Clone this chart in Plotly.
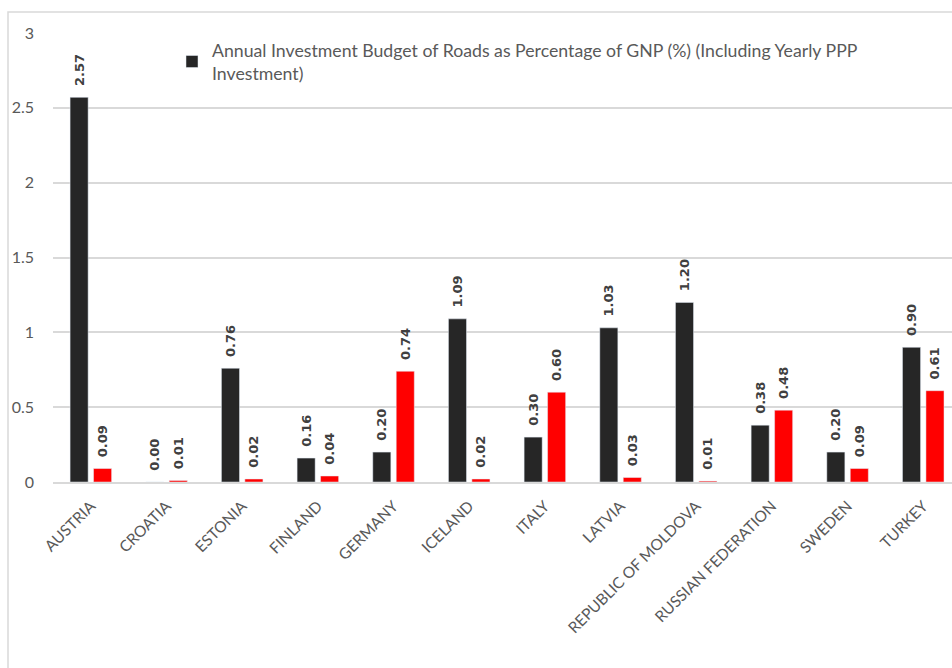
import plotly.graph_objects as go

countries = ["AUSTRIA", "CROATIA", "ESTONIA", "FINLAND", "GERMANY", "ICELAND", "ITALY",
             "LATVIA", "REPUBLIC OF MOLDOVA", "RUSSIAN FEDERATION", "SWEDEN", "TURKEY"]
budget_incl_ppp = [2.57, 0.00, 0.76, 0.16, 0.20, 1.09, 0.30, 1.03, 1.20, 0.38, 0.20, 0.90]
second_series = [0.09, 0.01, 0.02, 0.04, 0.74, 0.02, 0.60, 0.03, 0.006, 0.48, 0.09, 0.61]
y_ticks = [0, 0.5, 1, 1.5, 2, 2.5, 3]
y_tick_text = ["0", "0.5", "1", "1.5", "2", "2.5", "3"]
legend_name = "Annual Investment Budget of Roads as Percentage of GNP (%) (Including Yearly PPP<br>Investment)"

W, H = 952, 668
L, R, T, B = 53, 0, 33, 186
pw, ph = W - L - R, H - T - B

label_font = dict(family="DejaVu Sans", size=13, color="#404040")
label_tpl = "\u00a0\u00a0<b>%{y:.2f}</b>"

fig = go.Figure()
fig.add_trace(go.Bar(
    x=countries, y=budget_incl_ppp, name=legend_name,
    marker=dict(color="#262626"),
    texttemplate=label_tpl, textposition="outside", textangle=-90,
    textfont=label_font, cliponaxis=False, constraintext="none",
))
fig.add_trace(go.Bar(
    x=countries, y=second_series, name="",
    marker=dict(color="#ff0000"), showlegend=False,
    texttemplate=label_tpl, textposition="outside", textangle=-90,
    textfont=label_font, cliponaxis=False, constraintext="none",
))


def px_to_paper_x(px):
    return (px - L) / pw


def px_to_paper_y(py):
    return (H - B - py) / ph


# outer chart border (left and top visible)
fig.add_shape(type="rect", xref="paper", yref="paper",
              x0=px_to_paper_x(8), x1=px_to_paper_x(1000),
              y0=px_to_paper_y(700), y1=px_to_paper_y(12),
              line=dict(color="#d9d9d9", width=1.5), fillcolor="rgba(0,0,0,0)", layer="below")

fig.update_layout(
    width=W, height=H,
    margin=dict(l=L, r=R, t=T, b=B),
    paper_bgcolor="white", plot_bgcolor="white",
    barmode="group", bargap=0.38, bargroupgap=0.23,
    font=dict(family="Lato", color="#595959"),
    legend=dict(x=px_to_paper_x(172), y=px_to_paper_y(32), xanchor="left", yanchor="top",
                font=dict(family="Lato", size=17.7, color="#595959"),
                bgcolor="rgba(0,0,0,0)", itemwidth=30, tracegroupgap=0),
    showlegend=True,
    xaxis=dict(range=[-0.5, 11.38], tickangle=-45,
               tickfont=dict(family="Lato", size=15.5, color="#595959"),
               showgrid=False, showline=True, linecolor="#d9d9d9", linewidth=2, ticks="",
               ticklabelstandoff=7),
    yaxis=dict(range=[0, 3], tickvals=y_ticks, ticktext=y_tick_text,
               tickfont=dict(family="Lato", size=16, color="#595959"),
               showgrid=True, gridcolor="#d9d9d9", gridwidth=1.5, zeroline=False,
               showline=False, ticks="", ticklabelstandoff=18),
)

fig.write_html("out.html", config={"displayModeBar": False},
               post_script="document.body.style.margin='0';document.body.style.overflow='hidden';")
